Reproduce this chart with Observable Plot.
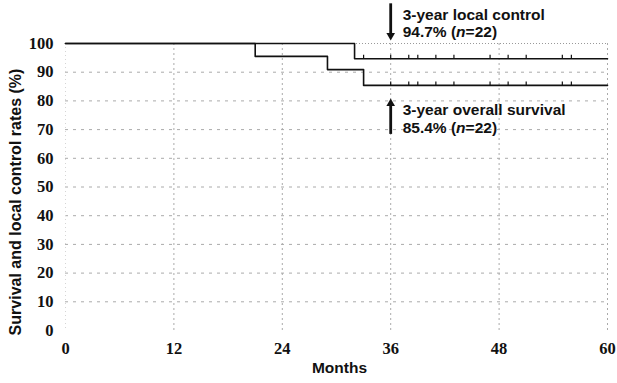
<!DOCTYPE html>
<html>
<head>
<meta charset="utf-8">
<script src="https://cdn.jsdelivr.net/npm/d3@7"></script>
<script src="https://cdn.jsdelivr.net/npm/@observablehq/plot@0.6"></script>
<style>
  html, body { margin: 0; padding: 0; background: #fff; }
</style>
</head>
<body>
<div id="chart"></div>
<script>
// ---- data ----
const monthTicks = [0, 12, 24, 36, 48, 60];
const rateTicks = [0, 10, 20, 30, 40, 50, 60, 70, 80, 90, 100];

const survivalMonths = [0, 21, 29, 33, 60];
const survivalRates  = [100, 95.5, 90.9, 85.4, 85.4];

const localMonths = [0, 32, 60];
const localRates  = [100, 94.7, 94.7];

const censorLocalMonths    = [33, 36, 38, 39, 41, 43, 47, 49, 51, 55, 56];
const censorSurvivalMonths = [36, 38, 39, 41, 43, 47, 49, 51, 55, 56];

const xLabel = "Months";
const yLabel = "Survival and local control rates (%)";
const localNote = ["3-year local control", "94.7% (n=22)"];
const survivalNote = ["3-year overall survival", "85.4% (n=22)"];
const noteMonth = 36;

// ---- derived tables ----
const survival = survivalMonths.map((m, i) => ({month: m, rate: survivalRates[i]}));
const local = localMonths.map((m, i) => ({month: m, rate: localRates[i]}));
const stepAt = (ms, rs, m) => { let v = rs[0]; ms.forEach((t, i) => { if (t <= m) v = rs[i]; }); return v; };
const censorLocal = censorLocalMonths.map(m => ({month: m, rate: stepAt(localMonths, localRates, m)}));
const censorSurvival = censorSurvivalMonths.map(m => ({month: m, rate: stepAt(survivalMonths, survivalRates, m)}));

const tickSymbol = {
  draw(context, size) {
    const r = Math.sqrt(size / Math.PI);
    context.moveTo(0, 0);
    context.lineTo(0, -r);
  }
};

const serif = "'Liberation Serif', 'Times New Roman', serif";
const sans = "'Liberation Sans', Arial, Helvetica, sans-serif";
const noteStyle = {dx: 12, textAnchor: "start", fontFamily: sans, fontWeight: "bold", fontSize: 15.5, fill: "#111"};

const chart = Plot.plot({
  width: 617,
  height: 383,
  marginLeft: 65,
  marginRight: 10,
  marginTop: 43,
  marginBottom: 53,
  x: {domain: [0, 60]},
  y: {domain: [0, 100]},
  style: {fontFamily: serif, background: "#fff", color: "#111", overflow: "visible"},
  marks: [
    Plot.gridY(rateTicks.filter(v => v > 0 && v < 100), {stroke: "#aaa", strokeOpacity: 1, strokeDasharray: "3,5"}),
    Plot.gridY([100], {stroke: "#999", strokeOpacity: 1, strokeDasharray: "1,2"}),
    Plot.gridX(monthTicks.filter(v => v > 0), {stroke: "#aaa", strokeOpacity: 1, strokeDasharray: "2,3"}),
    Plot.gridX([0], {stroke: "#d5d5d5", strokeOpacity: 1, strokeDasharray: "1,3"}),
    Plot.axisY(rateTicks, {tickSize: 0, tickPadding: 12, label: null, fontSize: 16.5, fontWeight: "bold", fontFamily: serif}),
    Plot.axisX(monthTicks, {tickSize: 0, tickPadding: 12, label: null, fontSize: 16.5, fontWeight: "bold", fontFamily: serif}),
    Plot.line(local, {x: "month", y: "rate", curve: "step-after", stroke: "#111", strokeWidth: 1.6}),
    Plot.line(survival, {x: "month", y: "rate", curve: "step-after", stroke: "#111", strokeWidth: 1.6}),
    Plot.dot(censorLocal, {x: "month", y: "rate", symbol: tickSymbol, r: 4, stroke: "#111", strokeWidth: 1.2, fill: "none"}),
    Plot.dot(censorSurvival, {x: "month", y: "rate", symbol: tickSymbol, r: 4, stroke: "#111", strokeWidth: 1.2, fill: "none"}),
    // annotation arrows (shaft + filled head)
    Plot.link([noteMonth], {x1: d => d, x2: d => d, y1: 114, y2: 103.5, stroke: "#111", strokeWidth: 2.8, clip: false}),
    Plot.dot([noteMonth], {x: d => d, y: 102.8, symbol: "triangle", rotate: 180, r: 3.2, fill: "#111", stroke: "none", clip: false}),
    Plot.link([noteMonth], {x1: d => d, x2: d => d, y1: 68.5, y2: 78.5, stroke: "#111", strokeWidth: 2.8, clip: false}),
    Plot.dot([noteMonth], {x: d => d, y: 79.1, symbol: "triangle", r: 3.2, fill: "#111", stroke: "none", clip: false}),
    Plot.text([localNote[0]], {x: noteMonth, y: 109.8, text: d => d, ...noteStyle}),
    Plot.text([localNote[1]], {x: noteMonth, y: 104.1, text: d => d, ...noteStyle}),
    Plot.text([survivalNote[0]], {x: noteMonth, y: 76.7, text: d => d, ...noteStyle}),
    Plot.text([survivalNote[1]], {x: noteMonth, y: 70.4, text: d => d, ...noteStyle}),
    // axis labels
    Plot.text([xLabel], {frameAnchor: "bottom", dx: 3, dy: 42, text: d => d, fontFamily: sans, fontWeight: "bold", fontSize: 15.5, fill: "#111"}),
    Plot.text([yLabel], {frameAnchor: "left", textAnchor: "middle", rotate: -90, dx: -50, dy: 15, text: d => d, fontFamily: sans, fontWeight: "bold", fontSize: 16, fill: "#111"})
  ]
});

// italicise the "n" in "(n=22)"
d3.select(chart).selectAll("text").each(function() {
  const el = d3.select(this);
  const t = this.textContent;
  const m = t.match(/^(.*\()n(=.*)$/);
  if (m && this.childElementCount === 0) {
    el.text(null);
    el.append("tspan").text(m[1]);
    el.append("tspan").attr("font-style", "italic").text("n");
    el.append("tspan").text(m[2]);
  }
});

document.getElementById("chart").appendChild(chart);
</script>
</body>
</html>
